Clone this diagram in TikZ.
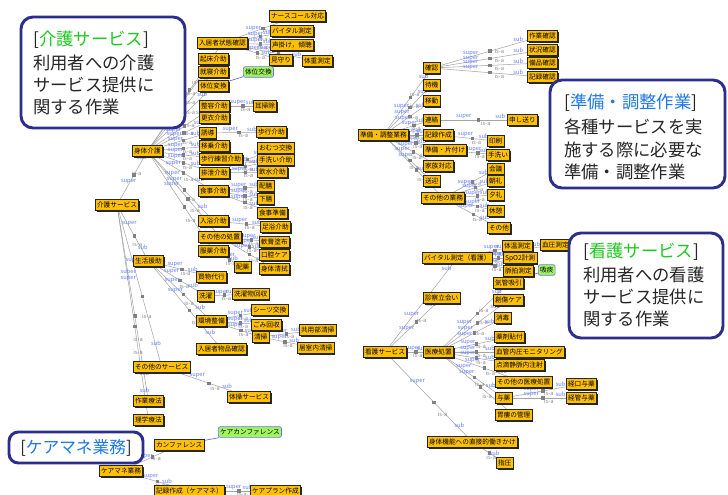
\documentclass[tikz,border=0pt]{standalone}
\usepackage{fontspec}
\setmainfont{Noto Sans CJK JP}
\usetikzlibrary{shadows,backgrounds}
\definecolor{boxfill}{RGB}{255,192,0}
\definecolor{grn}{RGB}{160,245,90}
\definecolor{navy}{RGB}{45,45,140}
\definecolor{lblue}{RGB}{100,125,255}
\definecolor{tgreen}{RGB}{30,200,30}
\definecolor{tblue}{RGB}{30,120,230}
\tikzset{
 basebox/.style={draw=black!85, line width=0.5pt, inner sep=1.3pt, font=\fontsize{5}{5}\selectfont, anchor=west, minimum height=8pt},
 box/.style={basebox, fill=boxfill, general shadow={fill=black!85, shadow xshift=0.9pt, shadow yshift=-0.9pt}},
 gbox/.style={basebox, fill=grn, draw=blue!55, rounded corners=1.5pt},
 isaline/.style={draw=black!35, line width=0.4pt},
 isasq/.style={fill=black!50, minimum size=2.6pt, inner sep=0pt},
 suplab/.style={text=lblue, font=\fontsize{4.3}{4.3}\selectfont, inner sep=0.5pt},
 isalab/.style={text=black!45, font=\fontsize{4.3}{4.3}\selectfont, inner sep=0.5pt},
 synline/.style={draw=blue!60, line width=0.5pt},
 callout/.style={draw=navy, line width=2.2pt, rounded corners=9pt, fill=white},
 ctext/.style={anchor=west, inner sep=0pt, font=\fontsize{13}{13}\selectfont, text=black!85},
}
\newcommand\isalink[2]{\draw[isaline] (#1) -- node[isasq,pos=0.57]{} node[suplab,pos=0.35,above]{super} node[isalab,pos=0.68,below]{is-a} node[suplab,pos=0.9,above]{sub} (#2);}
\begin{document}
\begin{tikzpicture}[x=0.75pt,y=-0.75pt]
\useasboundingbox (0,0) rectangle (728,495);
\clip (0,0) rectangle (728,495);
% ---- left tree
\node[box] (kaigo) at (95,205) {介護サービス};
\node[box] (shintai) at (132,151) {身体介護};
\node[box] (seikatsu) at (133,261) {生活援助};
\node[box] (sonota) at (133,367) {その他のサービス};
\node[box] (sagyo) at (133,401) {作業療法};
\node[box] (rigaku) at (133,420) {理学療法};
\node[box] (taiso) at (227,397) {体操サービス};
\node[box] (kanfa) at (154,445) {カンファレンス};
\node[gbox] (carekanfa) at (218,432) {ケアカンファレンス};
\node[box] (caremane) at (99,471) {ケアマネ業務};
\node[box] (kirokuCM) at (154,491) {記録作成（ケアマネ）};
\node[box] (careplan) at (250,491) {ケアプラン作成};
\node[box] (nyukyo) at (197,43) {入居者状態確認};
\node[box] (nurse) at (269,16) {ナースコール対応};
\node[box] (vital) at (270,31) {バイタル測定};
\node[box] (koekake) at (270,45) {声掛け，傾聴};
\node[box] (mimamori) at (269,60) {見守り};
\node[box] (taiju) at (302,61) {体重測定};
\node[box] (kisho) at (198,59) {起床介助};
\node[box] (shushin) at (198,72) {就寝介助};
\node[box] (taiihen) at (198,86) {体位変換};
\node[gbox] (taiikou) at (243,72) {体位交換};
\node[box] (seiyo) at (199,106) {整容介助};
\node[box] (mimi) at (253,106) {耳掃除};
\node[box] (koui) at (199,118) {更衣介助};
\node[box] (yudo) at (199,133) {誘導};
\node[box] (hoko) at (256,132) {歩行介助};
\node[box] (ijo) at (199,146) {移乗介助};
\node[box] (hokoren) at (199,159) {歩行練習介助};
\node[box] (omutsu) at (257,148) {おむつ交換};
\node[box] (tearai) at (257,160) {手洗い介助};
\node[box] (haisetsu) at (199,173) {排泄介助};
\node[box] (insui) at (257,172) {飲水介助};
\node[box] (shokuji) at (198,191) {食事介助};
\node[box] (haizen) at (257,186) {配膳};
\node[box] (gezen) at (257,199) {下膳};
\node[box] (shokujun) at (257,213) {食事準備};
\node[box] (nyuyoku) at (198,221) {入浴介助};
\node[box] (sokuyoku) at (260,227) {足浴介助};
\node[box] (shochi) at (198,237) {その他の処置};
\node[box] (nanko) at (259,242) {軟膏塗布};
\node[box] (koku) at (259,255) {口腔ケア};
\node[box] (fukuyaku) at (198,251) {服薬介助};
\node[box] (haiyaku) at (234,267) {配薬};
\node[box] (seishiki) at (259,269) {身体清拭};
\node[box] (kaimono) at (196,277) {買物代行};
\node[box] (sentaku) at (197,296) {洗濯};
\node[box] (sentakumono) at (232,294) {洗濯物回収};
\node[box] (sheets) at (251,310) {シーツ交換};
\node[box] (kankyo) at (196,321) {環境整備};
\node[box] (gomi) at (251,325) {ごみ回収};
\node[box] (seiso) at (252,337) {清掃};
\node[box] (kyoyo) at (299,330) {共用部清掃};
\node[box] (kyoshitsu) at (297,348) {居室内清掃};
\node[box] (buppin) at (196,349) {入居者物品確認};
% ---- middle tree
\node[box] (junbi) at (358,135) {準備・調整業務};
\node[box] (kakunin) at (423,68) {確認};
\node[box] (sagyokak) at (527,36) {作業確認};
\node[box] (jokyo) at (527,50) {状況確認};
\node[box] (bihin) at (527,63) {備品確認};
\node[box] (kirokukak) at (527,77) {記録確認};
\node[box] (taiki) at (423,85) {待機};
\node[box] (ido) at (423,101) {移動};
\node[box] (renraku) at (423,120) {連絡};
\node[box] (moushi) at (507,120) {申し送り};
\node[box] (kiroku) at (423,135) {記録作成};
\node[box] (insatsu) at (487,141) {印刷};
\node[box] (katazuke) at (423,150) {準備・片付け};
\node[box] (tearai2) at (486,155) {手洗い};
\node[box] (kazoku) at (423,166) {家族対応};
\node[box] (sogei) at (423,181) {送迎};
\node[box] (sonotagyo) at (421,198) {その他の業務};
\node[box] (kaigi) at (487,169) {会議};
\node[box] (chorei) at (487,181) {朝礼};
\node[box] (yurei) at (487,195) {夕礼};
\node[box] (kyukei) at (487,211) {休憩};
\node[box] (sonotaX) at (487,228) {その他};
% ---- nursing tree
\node[box] (kango) at (363,352) {看護サービス};
\node[box] (vitalK) at (422,258) {バイタル測定（看護）};
\node[box] (taion) at (502,246) {体温測定};
\node[box] (ketsuatsu) at (540,245) {血圧測定};
\node[box] (spo2) at (503,258) {SpO2計測};
\node[box] (myakuhaku) at (503,271) {脈拍測定};
\node[gbox] (kyutan) at (538,270) {吸痰};
\node[box] (kikan) at (493,283) {気管吸引};
\node[box] (shinsatsu) at (423,298) {診察立会い};
\node[box] (soshou) at (493,300) {創傷ケア};
\node[box] (shodoku) at (494,318) {消毒};
\node[box] (yakuzai) at (494,337) {薬剤貼付};
\node[box] (iryo) at (423,352) {医療処置};
\node[box] (kekkan) at (494,352) {血管内圧モニタリング};
\node[box] (tenteki) at (494,365) {点滴静脈内注射};
\node[box] (sonotairyo) at (495,382) {その他の医療処置};
\node[box] (yoyaku) at (495,398) {与薬};
\node[box] (keiko) at (566,384) {経口与薬};
\node[box] (keikan) at (566,398) {経管与薬};
\node[box] (irou) at (495,415) {胃瘻の管理};
\node[box] (shintaikino) at (427,442) {身体機能への直接的働きかけ};
\node[box] (shiatsu) at (496,463) {指圧};
% ---- connectors
\begin{pgfonlayer}{background}
\fill[white] (0,0) rectangle (728,495);
\foreach \p/\c in {kaigo/shintai, kaigo/seikatsu, kaigo/sonota, kaigo/sagyo, kaigo/rigaku,
 shintai/nyukyo, shintai/kisho, shintai/shushin, shintai/taiihen, shintai/seiyo, shintai/koui, shintai/yudo, shintai/ijo, shintai/hokoren, shintai/haisetsu, shintai/shokuji, shintai/nyuyoku, shintai/shochi, shintai/fukuyaku,
 nyukyo/nurse, nyukyo/vital, nyukyo/koekake, nyukyo/mimamori, nyukyo/taiju,
 seiyo/mimi, yudo/hoko, haisetsu/omutsu, haisetsu/tearai, haisetsu/insui,
 shokuji/haizen, shokuji/gezen, shokuji/shokujun, nyuyoku/sokuyoku,
 shochi/nanko, shochi/koku, shochi/seishiki, fukuyaku/haiyaku,
 seikatsu/kaimono, seikatsu/sentaku, seikatsu/kankyo, seikatsu/buppin,
 sentaku/sentakumono, kankyo/sheets, kankyo/gomi, kankyo/seiso, seiso/kyoyo, seiso/kyoshitsu,
 sonota/taiso, caremane/kanfa, caremane/kirokuCM, kirokuCM/careplan,
 junbi/kakunin, junbi/taiki, junbi/ido, junbi/renraku, junbi/kiroku, junbi/katazuke, junbi/kazoku, junbi/sogei, junbi/sonotagyo,
 kakunin/sagyokak, kakunin/jokyo, kakunin/bihin, kakunin/kirokukak,
 renraku/moushi, kiroku/insatsu, katazuke/tearai2,
 sonotagyo/kaigi, sonotagyo/chorei, sonotagyo/yurei, sonotagyo/kyukei, sonotagyo/sonotaX,
 kango/vitalK, kango/shinsatsu, kango/iryo, kango/shintaikino,
 vitalK/taion, vitalK/ketsuatsu, vitalK/spo2, vitalK/myakuhaku,
 iryo/kikan, iryo/soshou, iryo/shodoku, iryo/yakuzai, iryo/kekkan, iryo/tenteki, iryo/sonotairyo, iryo/yoyaku, iryo/irou,
 yoyaku/keiko, yoyaku/keikan, shintaikino/shiatsu}
 {\isalink{\p}{\c}}
\draw[synline] (taiihen) -- (taiikou);
\draw[synline] (kanfa) -- (carekanfa);
\draw[synline] (kikan) -- (kyutan);
\end{pgfonlayer}
% ---- callouts
\draw[callout] (21,17) rectangle (185,128);
\node[ctext] (c1a) at (33,40) {[\textcolor{tgreen}{介護サービス}]};
\node[ctext] (c1b) at (33,63) {利用者への介護};
\node[ctext] (c1c) at (33,85) {サービス提供に};
\node[ctext] (c1d) at (33,107) {関する作業};
\draw[callout] (550,80) rectangle (725,188);
\node[ctext] (c2a) at (564,103) {[\textcolor{tblue}{準備・調整作業}]};
\node[ctext] (c2b) at (564,127) {各種サービスを実};
\node[ctext] (c2c) at (564,150) {施する際に必要な};
\node[ctext] (c2d) at (564,172) {準備・調整作業};
\draw[callout] (569,233) rectangle (723,338);
\node[ctext] (c3a) at (583,252) {[\textcolor{tgreen}{看護サービス}]};
\node[ctext] (c3b) at (583,275) {利用者への看護};
\node[ctext] (c3c) at (583,297) {サービス提供に};
\node[ctext] (c3d) at (583,319) {関する作業};
\draw[callout, rounded corners=7pt] (9,432) rectangle (143,463);
\node[ctext, anchor=center, font=\fontsize{12.5}{12.5}\selectfont] (c4a) at (76,448) {[\textcolor{tblue}{ケアマネ業務}]};
\end{tikzpicture}
\end{document}
